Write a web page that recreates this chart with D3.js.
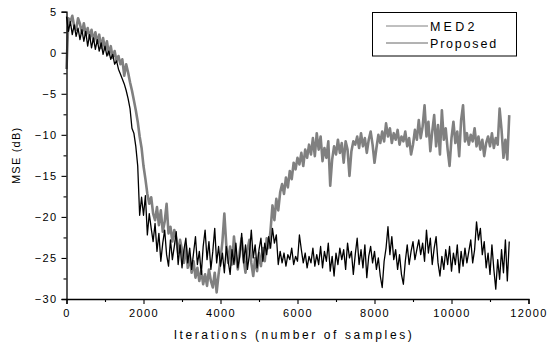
<!DOCTYPE html>
<html>
<head>
<meta charset="utf-8">
<script src="https://cdn.jsdelivr.net/npm/d3@7"></script>
<style>
  html, body { margin: 0; padding: 0; background: #fff; }
  svg { display: block; }
  text { font-family: "Liberation Sans", Arial, sans-serif; fill: #000; }
</style>
</head>
<body>
<svg id="chart" width="555" height="347"></svg>
<script>
// ---- Data ----
const sampleStep = 50; // iterations between stored points
const med2 = [
  -2.0, 4.2, 3.8, 4.5, 3.2, 2.8, 4.2, 3.5, 2.4, 3.6,
  2.2, 3.0, 1.8, 2.8, 1.4, 2.5, 1.2, 2.2, 0.6, 1.8,
  0.4, 1.4, -0.2, 0.8, -0.6, 0.2, -1.0, -0.4, -1.4, -0.8,
  -2.8, -1.4, -2.4, -3.6, -4.6, -5.8, -7.0, -8.4, -10.2, -11.6,
  -13.8, -15.4, -17.2, -18.4, -17.6, -19.6, -20.4, -18.8, -21.0, -19.2,
  -21.8, -20.6, -18.4, -22.0, -21.2, -23.0, -21.6, -22.6, -24.4, -22.8,
  -24.0, -25.6, -23.4, -26.2, -24.8, -26.8, -25.4, -27.4, -26.2, -27.8,
  -26.6, -28.2, -27.0, -28.4, -26.4, -27.8, -28.6, -26.8, -29.2, -27.0,
  -25.2, -23.0, -19.6, -23.4, -25.6, -23.6, -25.8, -22.4, -24.8, -26.4,
  -24.2, -22.6, -25.2, -26.8, -24.0, -22.8, -25.6, -27.2, -25.0, -26.6,
  -24.4, -26.0, -23.8, -25.4, -22.6, -23.8, -21.6, -18.6, -20.4, -17.8,
  -19.2, -17.0, -16.0, -17.2, -15.2, -16.4, -14.4, -15.4, -13.4, -14.2,
  -12.8, -13.6, -12.2, -13.8, -11.8, -12.8, -11.2, -12.4, -10.4, -12.6,
  -9.8, -11.8, -10.2, -13.2, -11.6, -12.8, -10.8, -16.2, -13.0, -11.4,
  -12.4, -10.6, -12.2, -11.0, -13.4, -10.8, -11.8, -15.0, -12.0, -10.8,
  -11.2, -10.2, -11.6, -9.8, -11.4, -10.4, -12.2, -10.6, -9.6, -11.2,
  -13.4, -11.6, -10.0, -11.0, -9.6, -10.8, -8.6, -10.2, -9.2, -11.0,
  -9.8, -10.6, -9.4, -11.2, -10.2, -10.8, -9.6, -11.4, -10.4, -12.4,
  -11.2, -9.4, -10.6, -8.2, -10.4, -9.0, -6.4, -10.2, -8.4, -12.0,
  -9.6, -7.6, -11.4, -8.8, -12.4, -7.0, -10.6, -9.2, -11.8, -13.8,
  -10.4, -8.4, -11.0, -9.6, -12.6, -8.2, -6.4, -10.8, -9.8, -11.2,
  -10.0, -10.8, -9.2, -11.4, -10.2, -11.8, -10.6, -12.6, -11.0, -10.2,
  -11.4, -9.8, -11.6, -10.4, -11.2, -6.8, -9.4, -12.8, -10.6, -13.0,
  -7.6
];
const proposed = [
  4.4, 2.6, 3.8, 2.2, 3.4, 2.0, 3.0, 1.6, 2.8, 1.4,
  2.6, 0.8, 2.2, 0.6, 1.8, 0.4, 1.6, 0.2, 1.2, -0.2,
  0.8, -0.4, 0.2, -0.8, -0.2, -1.4, -1.0, -2.0, -2.6, -3.2,
  -3.8, -4.6, -5.6, -6.8, -9.2, -9.8, -11.4, -13.8, -19.8, -17.6,
  -19.8, -17.4, -22.2, -19.6, -21.4, -23.0, -20.8, -24.2, -22.0, -25.4,
  -23.2, -21.6, -24.6, -26.0, -22.8, -25.2, -23.6, -21.8, -25.8, -23.4,
  -26.2, -24.0, -22.6, -25.6, -23.8, -26.4, -24.4, -22.4, -25.8, -24.2,
  -27.0, -23.6, -21.6, -25.2, -23.0, -26.4, -24.2, -21.4, -25.6, -23.6,
  -26.0, -24.4, -26.8, -23.6, -25.4, -27.0, -24.0, -25.8, -23.2, -26.2,
  -24.8, -22.0, -25.6, -23.4, -26.4, -24.6, -21.6, -25.0, -23.4, -26.2,
  -24.0, -22.6, -25.4, -23.2, -24.6, -22.4, -23.8, -21.4, -23.2, -22.2,
  -25.8, -24.2, -25.6, -24.4, -26.0, -24.6, -25.2, -23.8, -25.8, -24.8,
  -25.4, -22.2, -24.0, -25.6, -24.4, -26.2, -24.8, -25.6, -23.8, -26.0,
  -24.6, -25.8, -23.6, -26.2, -24.2, -25.4, -23.2, -26.6, -24.8, -27.2,
  -24.4, -25.8, -23.8, -25.2, -24.0, -26.4, -23.2, -25.0, -24.2, -27.0,
  -24.6, -22.6, -25.8, -24.0, -26.2, -23.4, -27.4, -24.8, -23.6, -25.6,
  -24.2, -26.4, -25.0, -27.2, -28.6, -25.4, -23.8, -21.2, -24.6, -22.4,
  -25.2, -24.0, -26.4, -24.6, -27.0, -28.2, -25.4, -23.4, -25.8, -24.2,
  -23.0, -25.2, -24.0, -22.8, -24.6, -23.2, -25.4, -21.6, -24.4, -22.6,
  -25.8, -23.8, -22.4, -25.6, -27.2, -24.8, -26.4, -24.0, -25.8, -23.6,
  -26.6, -24.4, -25.8, -23.4, -26.8, -24.2, -26.0, -23.8, -25.6, -24.2,
  -22.8, -25.6, -24.0, -20.6, -22.8, -21.4, -24.6, -23.0, -26.2, -24.4,
  -27.0, -23.4, -26.4, -28.8, -25.2, -27.6, -24.0, -26.8, -22.8, -27.8,
  -23.0
];
const seriesNames = ["MED2", "Proposed"];
const xTicks = [0, 2000, 4000, 6000, 8000, 10000, 12000];
const yTicks = [5, 0, -5, -10, -15, -20, -25, -30];
const xTitle = "Iterations (number of samples)";
const yTitle = "MSE (dB)";

// ---- Layout ----
const svg = d3.select("#chart");
const pLeft = 66.5, pRight = 528.5, pTop = 11.7, pBottom = 299;

const x = d3.scaleLinear().domain([0, 12000]).range([pLeft, pRight]);
const y = d3.scaleLinear().domain([-30, 5]).range([pBottom, pTop]);

const line = d3.line()
  .x((d, i) => x(i * sampleStep))
  .y(d => y(d));

// series
svg.append("path").datum(med2)
  .attr("d", line).attr("fill", "none")
  .attr("stroke", "#808080").attr("stroke-width", 2.6)
  .attr("stroke-linejoin", "round");
svg.append("path").datum(proposed)
  .attr("d", line).attr("fill", "none")
  .attr("stroke", "#000").attr("stroke-width", 1.3)
  .attr("stroke-linejoin", "round");

// axes
const xAxis = d3.axisBottom(x).tickValues(xTicks).tickSize(5).tickPadding(5)
  .tickFormat(d3.format("d"));
const xMinor = d3.axisBottom(x).tickValues(d3.range(1000, 12000, 2000)).tickSize(3).tickFormat("");
const yAxis = d3.axisLeft(y).tickValues(yTicks).tickSize(5).tickPadding(4)
  .tickFormat(d => d3.format("d")(d));
const yMinor = d3.axisLeft(y).tickValues(d3.range(-27.5, 5, 5)).tickSize(3).tickFormat("");

function styleAxis(g) {
  g.select(".domain").attr("stroke", "#000").attr("stroke-width", 1.3);
  g.selectAll(".tick line").attr("stroke", "#000").attr("stroke-width", 1.1);
  g.selectAll(".tick text")
    .style("font-family", '"Liberation Sans", Arial, sans-serif')
    .style("font-size", "11px")
    .style("letter-spacing", "1.4px")
    .attr("fill", "#000");
}

svg.append("g").attr("transform", `translate(0,${pBottom})`).call(xMinor).call(styleAxis)
  .select(".domain").remove();
svg.append("g").attr("transform", `translate(${pLeft},0)`).call(yMinor).call(styleAxis)
  .select(".domain").remove();
const gx = svg.append("g").attr("transform", `translate(0,${pBottom})`).call(xAxis).call(styleAxis);
const gy = svg.append("g").attr("transform", `translate(${pLeft},0)`).call(yAxis).call(styleAxis);

// titles
svg.append("text")
  .attr("x", 294).attr("y", 339)
  .attr("text-anchor", "middle")
  .style("font-size", "12px").style("letter-spacing", "2.6px")
  .text(xTitle);
svg.append("text")
  .attr("transform", `translate(20,${(pTop + pBottom) / 2}) rotate(-90)`)
  .attr("text-anchor", "middle")
  .style("font-size", "11px").style("letter-spacing", "1.2px")
  .text(yTitle);

// legend
const lg = svg.append("g");
lg.append("rect").attr("x", 372.5).attr("y", 12.5).attr("width", 144).attr("height", 43.5)
  .attr("fill", "#fff").attr("stroke", "#000").attr("stroke-width", 1);
const legendItems = [
  { name: seriesNames[0], color: "#808080", ls: "3.2px", yy: 26 },
  { name: seriesNames[1], color: "#666666", ls: "1.8px", yy: 43 }
];
legendItems.forEach(it => {
  lg.append("line").attr("x1", 386).attr("x2", 428).attr("y1", it.yy).attr("y2", it.yy)
    .attr("stroke", it.color).attr("stroke-width", 1);
  lg.append("text").attr("x", 430).attr("y", it.yy + 4.5)
    .style("font-size", "12.5px").style("letter-spacing", it.ls)
    .text(it.name);
});
</script>
</body>
</html>
